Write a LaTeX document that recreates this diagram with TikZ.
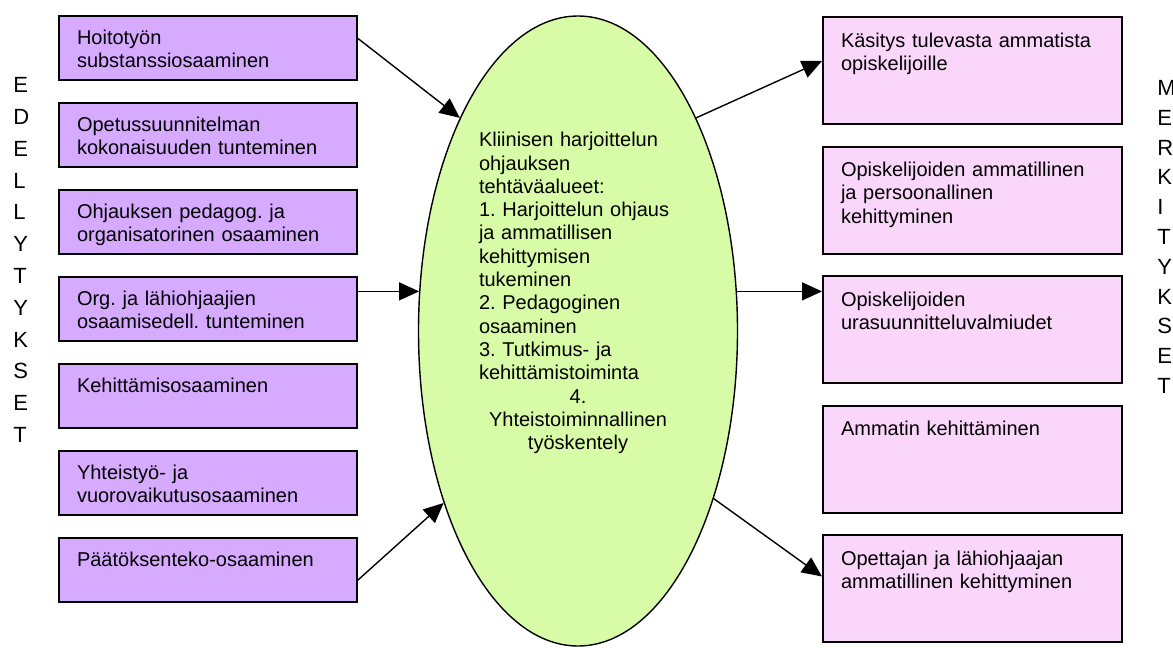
\documentclass[tikz,border=0pt]{standalone}
\usepackage{fontspec}
\setmainfont{Liberation Sans}
\frenchspacing
\definecolor{reqviolet}{HTML}{D6AAFF}
\definecolor{respink}{HTML}{FAD6FB}
\definecolor{coregreen}{HTML}{D8FBA7}
\usetikzlibrary{%
    shapes.geometric,
    arrows.meta,
    positioning,
}
\tikzset{%
    base/.style = {
        font=\fontsize{10}{11.65}\selectfont,
        align=left,
        inner xsep=9pt,
        inner ysep=0pt,
        anchor=north west,
        line width=1pt,
        draw=black,
    },
    req/.style = {
        base,
        rectangle,
        text width=131pt,
        text height=14pt,
        text depth=18pt,
        fill=reqviolet,
    },
    res/.style = {
        base,
        rectangle,
        text width=131.5pt,
        text height=15pt,
        text depth=38.5pt,
        fill=respink,
    },
    task/.style = {
        ellipse,
        draw=black,
        line width=0.7pt,
        fill=coregreen,
        minimum width=159.5pt,
        minimum height=315pt,
        inner sep=0pt,
    },
    tasktext/.style = {
        font=\fontsize{10}{11.65}\selectfont,
        text width=99pt,
        align=left,
        inner sep=0pt,
    },
    side/.style = {
        align=left,
        anchor=west,
        inner sep=0pt,
    },
    flow/.style = {
        -{Triangle[length=10pt,width=9pt]},
        line width=0.7pt,
    },
}

\begin{document}
\begin{tikzpicture}[x=0.5pt, y=-0.5pt]
    \useasboundingbox (0,0) rectangle (1173,648);
    \node [req] at (58,15) (hoito) {Hoitotyön\\substanssiosaaminen};
    \node [req, below=10.5pt of hoito] (ops) {Opetussuunnitelman\\kokonaisuuden tunteminen};
    \node [req, below=10.5pt of ops] (pedag) {Ohjauksen pedagog. ja\\organisatorinen osaaminen};
    \node [req, below=10.5pt of pedag] (orgs) {Org. ja lähiohjaajien\\osaamisedell. tunteminen};
    \node [req, below=10.5pt of orgs] (kehit) {Kehittämisosaaminen};
    \node [req, below=10.5pt of kehit] (yhteis) {Yhteistyö- ja\\vuorovaikutusosaaminen};
    \node [req, below=10.5pt of yhteis] (paatos) {Päätöksenteko-osaaminen};

    \node [res] at (822,16) (kasitys) {Käsitys tulevasta ammatista\\opiskelijoille};
    \node [res, below=10.25pt of kasitys] (persoona) {Opiskelijoiden ammatillinen\\ja persoonallinen\\kehittyminen};
    \node [res, below=10.25pt of persoona] (ura) {Opiskelijoiden\\urasuunnitteluvalmiudet};
    \node [res, below=10.25pt of ura] (ammatti) {Ammatin kehittäminen};
    \node [res, below=10.25pt of ammatti] (opettaja) {Opettajan ja lähiohjaajan\\ammatillinen kehittyminen};

    \node [task] at (578,331) (tasks) {};
    \node [tasktext] at (578,293) (tasklist) {Kliinisen harjoittelun\\ohjauksen\\tehtäväalueet:\\1. Harjoittelun ohjaus\\ja ammatillisen\\kehittymisen\\tukeminen\\2. Pedagoginen\\osaaminen\\3. Tutkimus- ja\\kehittämistoiminta\par
        \centering 4.\\Yhteistoiminnallinen\\työskentely\par};

    \node [side, font=\fontsize{11}{15.9}\selectfont] at (13,260) (edell) {E\\D\\E\\L\\L\\Y\\T\\Y\\K\\S\\E\\T};
    \node [side, font=\fontsize{11}{14.9}\selectfont] at (1157,237) (merk) {M\\E\\R\\K\\I\\T\\Y\\K\\S\\E\\T};

    \draw [flow] ([yshift=4.75pt]hoito.east) -- (tasks.119);
    \draw [flow] (tasks.166 -| orgs.east) -- (tasks.166);
    \draw [flow] ([yshift=-5pt]paatos.east) -- (tasks.232);
    \draw [flow] (tasks.61) -- ([yshift=4.75pt]kasitys.west);
    \draw [flow] (tasks.14) -- (tasks.14 -| ura.west);
    \draw [flow] (tasks.309) -- ([yshift=6pt]opettaja.west);
\end{tikzpicture}
\end{document}
